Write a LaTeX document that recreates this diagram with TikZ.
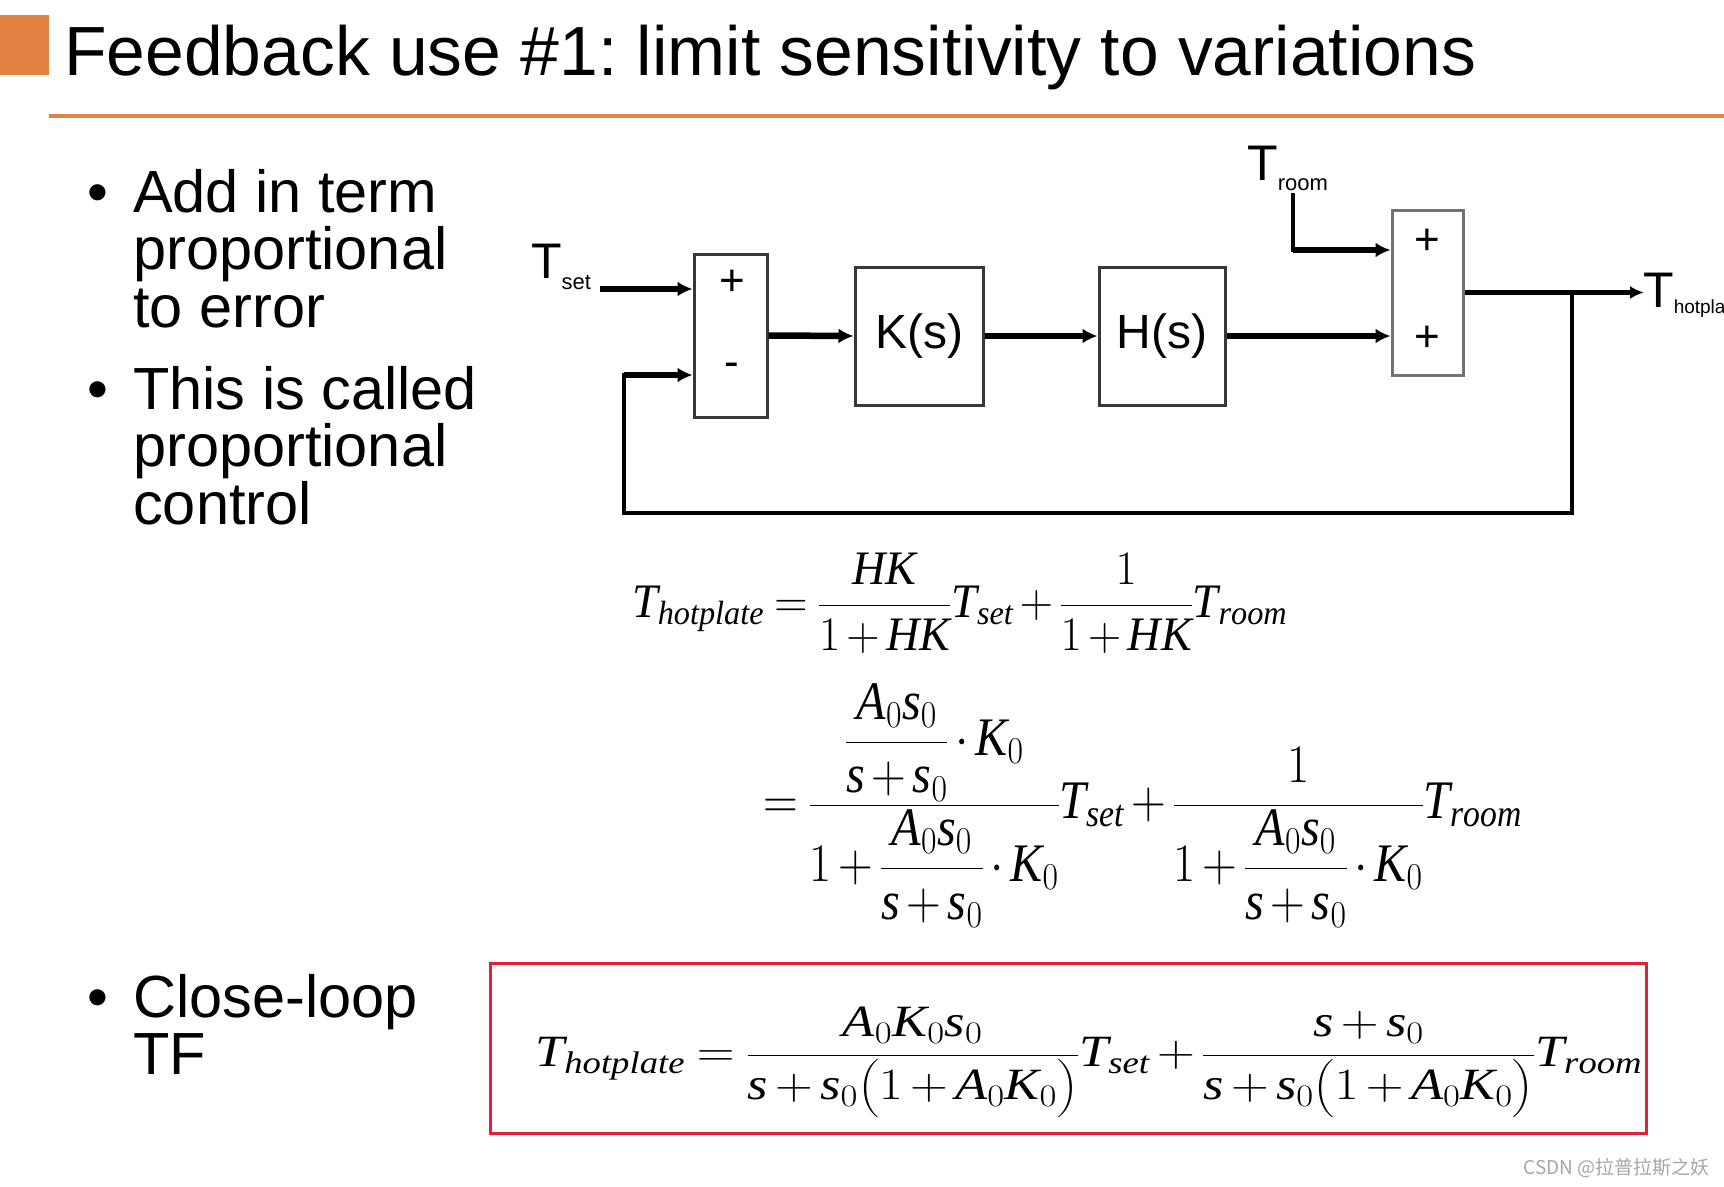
\RequirePackage{fix-cm}
\documentclass[tikz,border=0pt]{standalone}
\usepackage{amsmath}
\usepackage{graphicx}
\usepackage{fontspec}
\usetikzlibrary{arrows.meta,positioning}
\newfontfamily\arialfont{Liberation Sans}
\newfontfamily\cjkfont{Noto Sans CJK SC}
\newfontfamily\eqfont[NFSSFamily=ltserif]{Liberation Serif}
\definecolor{accent}{RGB}{226,131,68}
\definecolor{boxred}{RGB}{228,32,56}
% Times-like italic letters in the equations
\DeclareSymbolFont{tletters}{TU}{ltserif}{m}{it}
\newcommand{\mletter}[1]{\DeclareMathSymbol{#1}{\mathalpha}{tletters}{`#1}}
\mletter{A}\mletter{H}\mletter{K}\mletter{T}\mletter{s}\mletter{h}\mletter{o}
\mletter{t}\mletter{p}\mletter{l}\mletter{a}\mletter{e}\mletter{r}\mletter{m}
\newcommand{\eqspacing}{\medmuskip=2.5mu\relax\thickmuskip=4mu\relax}
% T with a lowered small subscript, as in the block diagram
\newcommand{\siglabel}[4]{{\arialfont\fontsize{50}{50}\selectfont #1}{\arialfont\fontsize{#4}{#4}\selectfont\raisebox{-#3pt}{#2}}}
\frenchspacing

\begin{document}
\begin{tikzpicture}[
    x=1pt, y=-1pt,
    every node/.style={inner sep=0pt},
    title/.style={font=\arialfont\fontsize{69.6}{70}\selectfont, anchor=base west},
    item/.style={font=\arialfont\fontsize{59.5}{58}\selectfont, anchor=base west},
    block/.style={draw=black!78, line width=3pt, fill=white, font=\arialfont\fontsize{48}{48}\selectfont},
    sign/.style={font=\arialfont\fontsize{44}{44}\selectfont},
    sig/.style={line width=6.5pt, -{Latex[length=15pt,width=15pt]}},
    wire/.style={line width=4.5pt, line cap=rect},
    eq/.style={anchor=north west, font=\fontsize{46}{50}\selectfont\eqspacing}
]
\fill[white] (0,0) rectangle (1724,1186);
\useasboundingbox (0,0) rectangle (1724,1186);

% Title bar
\fill[accent] (0,15) rectangle (49,75);
\node[title] (title) at (64,75) {Feedback use \#1: limit sensitivity to variations};
\fill[accent] (49,114) rectangle (1724,118);

% Bullets
\node[item] (bulletA) at (87,212) {•};
\node[item] (itemAa) at (133,212) {Add in term};
\node[item] (itemAb) at (133,269) {proportional};
\node[item] (itemAc) at (133,327) {to error};
\node[item] (bulletB) at (87,409) {•};
\node[item] (itemBa) at (133,409) {This is called};
\node[item] (itemBb) at (133,466) {proportional};
\node[item] (itemBc) at (133,524) {control};
\node[item] (bulletC) at (87,1017) {•};
\node[item] (itemCa) at (133,1017) {Close-loop};
\node[item] (itemCb) at (133,1074) {TF};

% Block diagram
\node[block, minimum width=73pt, minimum height=163pt] (sumA) at (730.5,335.5) {};
\node[sign] (plusA) at (732,283) {+};
\node[sign] (minusA) at (732,370) {-};
\node[block, minimum width=128pt, minimum height=138pt] (kbox) at (919,336) {K(s)};
\node[block, minimum width=126pt, minimum height=138pt] (hbox) at (1162,336) {H(s)};
\node[block, draw=black!55, minimum width=71pt, minimum height=165pt] (sumB) at (1427.5,292.5) {};
\node[sign] (plusB1) at (1427,242) {+};
\node[sign] (plusB2) at (1427,339) {+};

\node[anchor=base west] (tset) at (531,278) {\siglabel{T}{set}{11}{22}};
\node[anchor=base west] (troom) at (1247,180) {\siglabel{T}{room}{10}{22}};
\node[anchor=base west] (thot) at (1643,307) {\siglabel{T}{hotplate}{6}{19}};

\coordinate (tsetin) at (600,289);
\coordinate (troomst) at (1293,195);
\coordinate (troomin) at (1293,250);
\coordinate (fbsplit) at (1572,292.5);
\coordinate (fbcorner) at (624,513);
\coordinate (fbend) at (624,375);
\coordinate (outend) at (1644,292.5);

\draw[sig] (tsetin) -- (tsetin -| sumA.west);
\draw[sig] (sumA.east) -- (kbox.west);
\draw[sig] (kbox.east) -- (hbox.west);
\draw[sig] (hbox.east) -- (hbox.east -| sumB.west);
\draw[wire] (troomst) -- (troomin);
\draw[sig] (troomin) -- (troomin -| sumB.west);
\draw[line width=4.5pt, -{Latex[length=14pt,width=13pt]}] (sumB.east) -- (outend);
\draw[wire] (fbsplit) |- (fbcorner) -- (fbend);
\draw[sig] (fbend) -- (fbend -| sumA.west);

% Equations
\node[eq] (eqone) at (632,553) {\resizebox*{655pt}{100pt}%
  {$\displaystyle T_{hotplate} = \frac{HK}{1+HK}T_{set} + \frac{1}{1+HK}T_{room}$}};
\node[eq] (eqtwo) at (763,683) {\resizebox*{759pt}{244pt}%
  {$\displaystyle = \frac{\dfrac{A_0 s_0}{s+s_0}\cdot K_0}{1+\dfrac{A_0 s_0}{s+s_0}\cdot K_0}T_{set}
   + \frac{1}{1+\dfrac{A_0 s_0}{s+s_0}\cdot K_0}T_{room}$}};
\node[eq] (eqthree) at (535,1007) {\resizebox*{1107pt}{110pt}%
  {$\displaystyle T_{hotplate} = \frac{A_0 K_0 s_0}{s+s_0\bigl(1+A_0 K_0\bigr)}T_{set}
   + \frac{s+s_0}{s+s_0\bigl(1+A_0 K_0\bigr)}T_{room}$}};
\draw[boxred, line width=3pt] (490,963) rectangle (1646,1133);

\node[anchor=base east, text=black!35, font=\cjkfont\fontsize{19}{19}\selectfont] (mark) at (1710,1174) {CSDN @拉普拉斯之妖};

\end{tikzpicture}
\end{document}
